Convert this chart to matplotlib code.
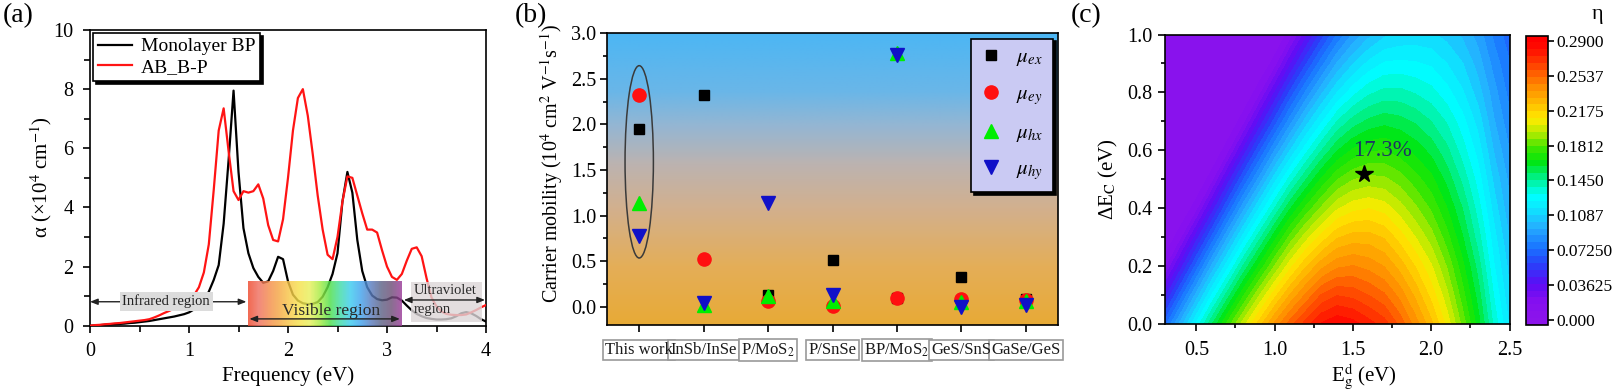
import numpy as np
import matplotlib
matplotlib.use("Agg")
import matplotlib.pyplot as plt
from matplotlib.colors import LinearSegmentedColormap, Normalize
from matplotlib.patches import Ellipse, Rectangle
from matplotlib.ticker import MultipleLocator
import matplotlib.transforms as mtransforms
import matplotlib.cm as cm

plt.rcParams['font.family'] = ['Liberation Serif', 'DejaVu Serif']
plt.rcParams['mathtext.fontset'] = 'stix'
plt.rcParams['axes.linewidth'] = 1.2

# ---------------- panel (a) data ----------------
freq_ev = np.linspace(0.0, 4.0, 81)
alpha_bp = [0.00, 0.01, 0.02, 0.03, 0.04, 0.05, 0.06, 0.07, 0.09, 0.10,
            0.12, 0.14, 0.16, 0.19, 0.22, 0.25, 0.28, 0.31, 0.35, 0.39,
            0.45, 0.55, 0.68, 0.88, 1.15, 1.55, 2.05, 3.45, 5.60, 7.95,
            5.20, 3.30, 2.45, 1.95, 1.65, 1.45, 1.50, 1.85, 2.33, 2.25,
            1.50, 1.05, 0.85, 0.76, 0.73, 0.74, 0.80, 0.98, 1.30, 1.75,
            2.45, 4.20, 5.20, 4.50, 2.90, 1.85, 1.30, 1.02, 0.90, 0.86,
            0.88, 0.96, 0.95, 0.85, 0.68, 0.52, 0.40, 0.32, 0.26, 0.23,
            0.21, 0.21, 0.22, 0.25, 0.32, 0.42, 0.46, 0.42, 0.33, 0.22,
            0.14]
alpha_abbp = [0.00, 0.02, 0.03, 0.05, 0.06, 0.08, 0.09, 0.11, 0.13, 0.15,
              0.17, 0.19, 0.22, 0.28, 0.35, 0.43, 0.50, 0.58, 0.67, 0.78,
              0.90, 1.03, 1.30, 1.80, 2.75, 4.60, 6.60, 7.35, 5.90, 4.55,
              4.25, 4.55, 4.50, 4.55, 4.78, 4.30, 3.40, 2.90, 2.85, 3.60,
              5.00, 6.60, 7.70, 8.00, 7.10, 5.80, 4.40, 3.25, 2.40, 2.25,
              3.00, 4.20, 5.05, 5.00, 4.40, 3.80, 3.25, 3.25, 3.15, 2.55,
              2.00, 1.65, 1.55, 1.75, 2.20, 2.60, 2.65, 2.35, 1.60, 0.95,
              0.65, 0.48, 0.40, 0.37, 0.36, 0.36, 0.38, 0.45, 0.53, 0.62,
              0.70]

# ---------------- panel (b) data ----------------
categories = ['This work', 'InSb/InSe', 'P/MoS$_2$', 'P/SnSe', 'BP/MoS$_2$', 'GeS/SnS', 'GaSe/GeS']
mu_ex = [1.95, 2.32, 0.13, 0.51, 0.10, 0.33, 0.09]
mu_ey = [2.32, 0.52, 0.06, 0.01, 0.10, 0.09, 0.07]
mu_hx = [1.14, 0.02, 0.12, 0.06, 2.78, 0.05, 0.06]
mu_hy = [0.78, 0.04, 1.14, 0.13, 2.76, 0.00, 0.02]

# ---------------- panel (c) data ----------------
eg_values = np.linspace(0.3, 2.5, 23)
dec_values = np.linspace(0.0, 1.0, 11)
eta = np.array([
    [.070, .098, .125, .152, .177, .200, .221, .241, .258, .272, .284, .289, .286, .279, .272, .259, .243, .227, .208, .186, .163, .136, .115],
    [.041, .069, .097, .124, .149, .173, .195, .215, .233, .248, .262, .268, .266, .261, .255, .244, .230, .215, .198, .177, .156, .130, .110],
    [.012, .040, .068, .096, .121, .146, .168, .189, .208, .224, .237, .245, .247, .244, .239, .229, .217, .204, .188, .169, .149, .124, .106],
    [0, .012, .040, .067, .094, .119, .142, .164, .184, .200, .213, .224, .228, .228, .224, .214, .203, .192, .177, .160, .141, .119, .101],
    [0, 0, .011, .039, .066, .092, .116, .138, .159, .176, .190, .202, .208, .210, .207, .199, .190, .180, .167, .152, .134, .113, .096],
    [0, 0, 0, .011, .039, .065, .089, .113, .134, .152, .168, .181, .188, .191, .190, .185, .177, .169, .157, .143, .127, .107, .092],
    [0, 0, 0, 0, .011, .038, .063, .087, .109, .128, .145, .159, .168, .173, .174, .170, .164, .157, .147, .134, .120, .101, .087],
    [0, 0, 0, 0, 0, .011, .037, .061, .084, .105, .122, .138, .148, .154, .157, .155, .151, .145, .137, .126, .113, .095, .082],
    [0, 0, 0, 0, 0, 0, .011, .036, .060, .081, .100, .116, .128, .136, .140, .140, .137, .133, .126, .117, .105, .090, .077],
    [0, 0, 0, 0, 0, 0, 0, .010, .035, .057, .077, .095, .108, .118, .124, .125, .124, .122, .116, .109, .098, .084, .073],
    [0, 0, 0, 0, 0, 0, 0, 0, .010, .033, .054, .073, .088, .099, .107, .110, .111, .110, .106, .100, .091, .078, .068],
])
best_point = (1.57, 0.52)
best_label = '17.3%'
cb_ticks = [0.0, 0.03625, 0.0725, 0.10875, 0.145, 0.18125, 0.2175, 0.25375, 0.29]
cb_labels = ['0.000', '0.03625', '0.07250', '0.1087', '0.1450', '0.1812', '0.2175', '0.2537', '0.2900']

# ---------------- figure ----------------
W, H = 1616, 392
fig = plt.figure(figsize=(W / 100, H / 100), dpi=100)


def px_axes(l, t, r, b):
    return fig.add_axes([l / W, 1 - b / H, (r - l) / W, (b - t) / H])


def fig_text(x, y, s, **kw):
    return fig.text(x / W, 1 - y / H, s, **kw)


axA = px_axes(90, 30, 486, 325.7)
axB = px_axes(607, 33.3, 1058, 325)
axC = px_axes(1165, 34.5, 1509.5, 324.3)
cax = px_axes(1526, 35.5, 1547.7, 325)

# ---------------- (a) ----------------
axA.plot(freq_ev, alpha_bp, color='black', lw=1.6, label='Monolayer BP', zorder=3)
axA.plot(freq_ev, alpha_abbp, color='#FF1414', lw=1.6, label='AB_B-P', zorder=3.1)

rainbow_cols = ['#EE4A2E', '#F07060', '#F48C4C', '#F6A844', '#F8C848', '#F6E24C', '#E8F05C',
                '#A8EC44', '#4EE04A', '#40DCA8', '#3CCCF0', '#42A4EE', '#5A7EC0', '#5E6488',
                '#6E5078', '#9A3C98']
rb = LinearSegmentedColormap.from_list('rb', rainbow_cols)
axA.imshow(np.linspace(0, 1, 300).reshape(1, -1), cmap=rb, extent=(1.6, 3.15, 0, 1.5),
           aspect='auto', alpha=0.82, zorder=4, interpolation='bilinear')
axA.add_patch(Rectangle((3.24, 0.14), 0.72, 1.35, fc='#DCD6D8', ec='none', alpha=0.8, zorder=4))

arrow_kw = dict(arrowstyle='<|-|>,head_length=0.45,head_width=0.18', color='#222222', lw=1.0,
                shrinkA=0, shrinkB=0)
axA.annotate('', xy=(1.58, 0.81), xytext=(0.0, 0.81), arrowprops=arrow_kw, zorder=5)
axA.annotate('', xy=(3.13, 0.23), xytext=(1.61, 0.23), arrowprops=arrow_kw, zorder=5)
axA.annotate('', xy=(3.99, 0.87), xytext=(3.17, 0.87), arrowprops=arrow_kw, zorder=5)
axA.text(0.77, 0.82, 'Infrared region', ha='center', va='center', fontsize=10.5, color='#222222',
         bbox=dict(boxstyle='square,pad=0.2', fc='#DCDCDC', ec='none'), zorder=6)
axA.text(2.44, 0.50, 'Visible region', ha='center', va='center', fontsize=12.5, color='#2A2A2A', zorder=6)
axA.text(3.27, 1.18, 'Ultraviolet', ha='left', va='center', fontsize=10.5, color='#2A2A2A', zorder=6)
axA.text(3.27, 0.55, 'region', ha='left', va='center', fontsize=10.5, color='#2A2A2A', zorder=6)

axA.set_xlim(0, 4)
axA.set_ylim(0, 10)
axA.set_xticks([0, 1, 2, 3, 4])
axA.xaxis.set_minor_locator(MultipleLocator(0.5))
axA.set_yticks([0, 2, 4, 6, 8, 10])
axA.yaxis.set_minor_locator(MultipleLocator(1))
axA.tick_params(which='both', direction='out', width=1.2, labelsize=14.5, pad=7)
axA.tick_params(which='major', length=5)
axA.tick_params(which='minor', length=4)
legA = axA.legend(loc='upper left', fontsize=14, frameon=True, fancybox=False,
                  shadow={'color': 'black', 'alpha': 1.0}, edgecolor='black', framealpha=1,
                  borderpad=0.25, labelspacing=0.15, handlelength=1.75, handletextpad=0.45,
                  borderaxespad=0.15)
legA.get_frame().set_linewidth(1.2)

fig_text(288, 376, 'Frequency (eV)', ha='center', va='center', fontsize=15)
fig_text(41, 177, 'α (×10$^4$ cm$^{-1}$)', ha='center', va='center', fontsize=15, rotation=90)
fig_text(18, 16, '(a)', ha='center', va='center', fontsize=20)

# ---------------- (b) ----------------
bg_cmap = LinearSegmentedColormap.from_list('bg', [(0.0, '#E8AA36'), (0.2, '#E4AE58'), (0.4, '#D2B08E'),
                                                   (0.55, '#BCB3B0'), (0.68, '#96B6D2'), (0.8, '#6AB6E8'),
                                                   (1.0, '#4CB6F4')])
axB.imshow(np.linspace(0, 1, 256).reshape(-1, 1), cmap=bg_cmap, origin='lower',
           extent=(-0.5, 6.5, -0.2, 3.0), aspect='auto', zorder=0, interpolation='bilinear')
xpos = np.arange(len(categories))
axB.plot(xpos, mu_ex, 's', color='black', ms=7.5, ls='none', label=r'$\mu_{ex}$', zorder=4)
axB.plot(xpos, mu_ey, 'o', color='#FF1010', ms=9.5, ls='none', label=r'$\mu_{ey}$', zorder=4)
axB.plot(xpos, mu_hx, '^', color='#00EE00', ms=10, ls='none', label=r'$\mu_{hx}$', zorder=4)
axB.plot(xpos, mu_hy, 'v', color='#1010C8', ms=10, ls='none', label=r'$\mu_{hy}$', zorder=4)
axB.add_patch(Ellipse((0, 1.59), width=0.44, height=2.11, fill=False, ec='#3A3A3A', lw=1.1, zorder=3))
axB.set_xlim(-0.5, 6.5)
axB.set_ylim(-0.2, 3.0)
axB.set_xticks(xpos)
axB.set_xticklabels([])
axB.set_yticks([0, 0.5, 1.0, 1.5, 2.0, 2.5, 3.0])
axB.yaxis.set_minor_locator(MultipleLocator(0.25))
axB.tick_params(which='both', direction='out', width=1.2, labelsize=14.5, pad=2.5)
axB.tick_params(which='major', length=5)
axB.tick_params(which='minor', length=3)
trans = mtransforms.blended_transform_factory(axB.transData, axB.transAxes)
for i, lab in enumerate(categories):
    # box drawn first (invisible text), then the text on top so neighbouring boxes never hide it
    axB.text(i, -0.086, lab, transform=trans, ha='center', va='center', fontsize=12, color='none',
             bbox=dict(boxstyle='square,pad=0.14', fc='white', ec='#9A9A9A', lw=1.2),
             clip_on=False, zorder=5)
for i, lab in enumerate(categories):
    axB.text(i, -0.086, lab, transform=trans, ha='center', va='center', fontsize=12,
             color='#1A1A1A', clip_on=False, zorder=6)
legB = axB.legend(loc='upper right', fontsize=15, frameon=True, fancybox=False,
                  shadow={'color': 'black', 'alpha': 1.0}, edgecolor='black', facecolor='#CACAF3',
                  framealpha=1, borderpad=0.45, labelspacing=0.78, handlelength=1.0,
                  handletextpad=0.7, borderaxespad=0.25, numpoints=1)
legB.get_frame().set_linewidth(1.2)
fig_text(552, 163, 'Carrier mobility (10$^4$ cm$^2$ V$^{-1}$s$^{-1}$)', ha='center', va='center',
         fontsize=14.5, rotation=90)
fig_text(531, 16, '(b)', ha='center', va='center', fontsize=20)

# ---------------- (c) ----------------
eta_cmap = LinearSegmentedColormap.from_list('eta', [
    (0.000, (0.55, 0.08, 0.92)),
    (0.070, (0.52, 0.06, 0.94)),
    (0.135, (0.36, 0.05, 0.96)),
    (0.202, (0.16, 0.25, 0.98)),
    (0.259, (0.10, 0.45, 1.00)),
    (0.334, (0.15, 0.68, 1.00)),
    (0.400, (0.05, 0.90, 1.00)),
    (0.444, (0.00, 1.00, 1.00)),
    (0.500, (0.00, 0.95, 0.60)),
    (0.566, (0.00, 0.90, 0.05)),
    (0.616, (0.25, 0.90, 0.00)),
    (0.666, (0.70, 0.92, 0.00)),
    (0.715, (1.00, 0.92, 0.00)),
    (0.765, (1.00, 0.76, 0.00)),
    (0.831, (1.00, 0.55, 0.00)),
    (0.897, (1.00, 0.30, 0.00)),
    (0.963, (1.00, 0.05, 0.00)),
    (1.000, (1.00, 0.00, 0.00)),
])
eta_norm = Normalize(-0.0057, 0.2962)
axC.contourf(eg_values, dec_values, eta, levels=np.linspace(0, 0.29, 41), cmap=eta_cmap, norm=eta_norm)
axC.plot([best_point[0]], [best_point[1]], marker='*', color='black', ms=13, ls='none')
axC.text(1.69, 0.60, best_label, ha='center', va='center', fontsize=16.5, color='#1C3466')
axC.set_xlim(0.3, 2.5)
axC.set_ylim(0, 1.0)
axC.set_xticks([0.5, 1.0, 1.5, 2.0, 2.5])
axC.xaxis.set_minor_locator(MultipleLocator(0.25))
axC.set_yticks([0.0, 0.2, 0.4, 0.6, 0.8, 1.0])
axC.yaxis.set_minor_locator(MultipleLocator(0.1))
axC.tick_params(which='both', direction='out', width=1.2, labelsize=14.5)
axC.tick_params(axis='x', pad=7)
axC.tick_params(axis='y', pad=4)
axC.tick_params(which='major', length=5)
axC.tick_params(which='minor', length=3)
fig_text(1364, 377, r'E$_\mathrm{g}^\mathrm{d}$ (eV)', ha='center', va='center', fontsize=15)
fig_text(1108, 179, r'ΔE$_\mathrm{C}$ (eV)', ha='center', va='center', fontsize=15, rotation=90)
fig_text(1086, 16, '(c)', ha='center', va='center', fontsize=20)

sm = cm.ScalarMappable(norm=eta_norm, cmap=eta_cmap.resampled(42))
cb = fig.colorbar(sm, cax=cax)
cb.set_ticks(cb_ticks)
cb.set_ticklabels(cb_labels)
cb.outline.set_linewidth(1.2)
cax.tick_params(direction='out', length=4, width=1.2, labelsize=12.5, pad=2)
cax.minorticks_off()
fig_text(1597, 15, 'η', ha='center', va='center', fontsize=16)

fig.savefig('out.png', dpi=100)
